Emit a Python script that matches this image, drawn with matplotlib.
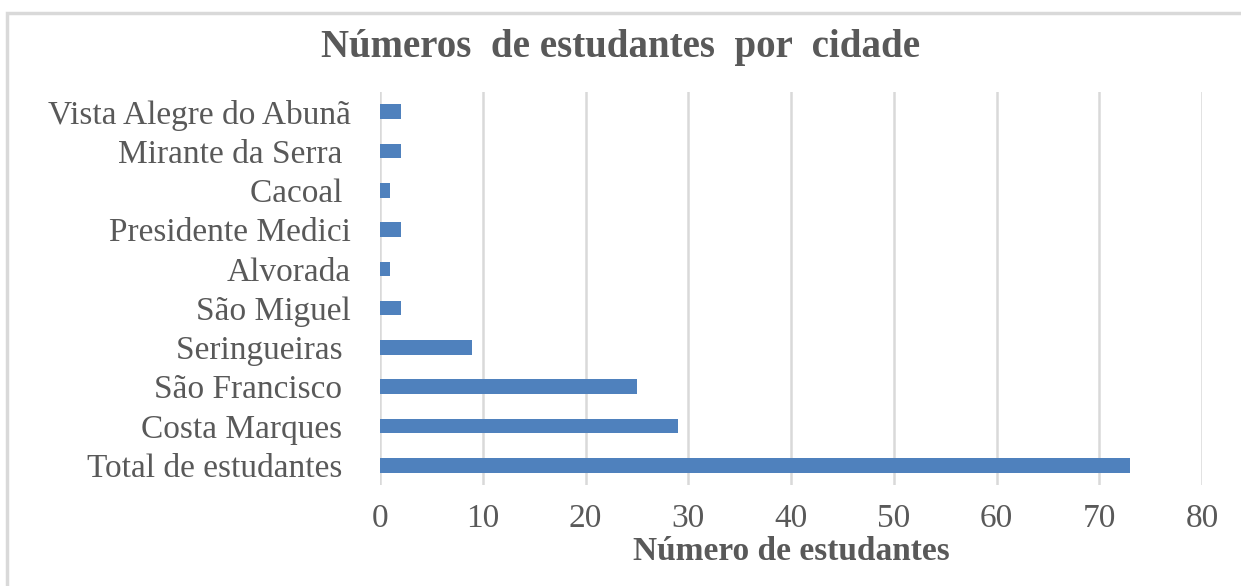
import matplotlib.pyplot as plt
from matplotlib.patches import Rectangle

cidades = ['Vista Alegre do Abunã', 'Mirante da Serra ', 'Cacoal ', 'Presidente Medici',
           'Alvorada', 'São Miguel', 'Seringueiras ', 'São Francisco ', 'Costa Marques ',
           'Total de estudantes ']
estudantes = [2, 2, 1, 2, 1, 2, 9, 25, 29, 73]
ticks_x = [0, 10, 20, 30, 40, 50, 60, 70, 80]

cinza = '#595959'
plt.rcParams['font.family'] = ['Liberation Serif', 'DejaVu Serif']

fig = plt.figure(figsize=(12.41, 5.86), dpi=100)
ax = fig.add_axes([380 / 1241, 1 - 485 / 586, (1202 - 380) / 1241, (485 - 92) / 586])

# borda do grafico (cortada a direita e embaixo)
fig.patches.append(Rectangle((7 / 1241, -0.05), 1.1, 1 - 13 / 586 + 0.05,
                             transform=fig.transFigure, fill=False,
                             edgecolor='#D9D9D9', linewidth=2.5))

pos = list(range(len(cidades)))[::-1]
ax.barh(pos, estudantes, height=0.37, color='#4F81BD', zorder=3)

ax.set_xlim(0, 80)
ax.set_ylim(-0.5, len(cidades) - 0.5)
ax.set_xticks(ticks_x)
ax.set_yticks(pos)
ax.set_yticklabels(cidades)
ax.grid(axis='x', color='#D9D9D9', linewidth=1.8, zorder=0)
ax.tick_params(length=0, labelsize=24, labelcolor=cinza)
ax.tick_params(axis='x', pad=13)
ax.tick_params(axis='y', pad=21)
for s in ax.spines.values():
    s.set_visible(False)

ax.set_xlabel('Número de estudantes', fontsize=24, fontweight='bold', color=cinza, labelpad=2)
fig.text(0.5, 1 - 47 / 586, 'Números  de estudantes  por  cidade', ha='center', va='center',
         fontsize=28, fontweight='bold', color=cinza)

fig.savefig('out.png', dpi=100)
